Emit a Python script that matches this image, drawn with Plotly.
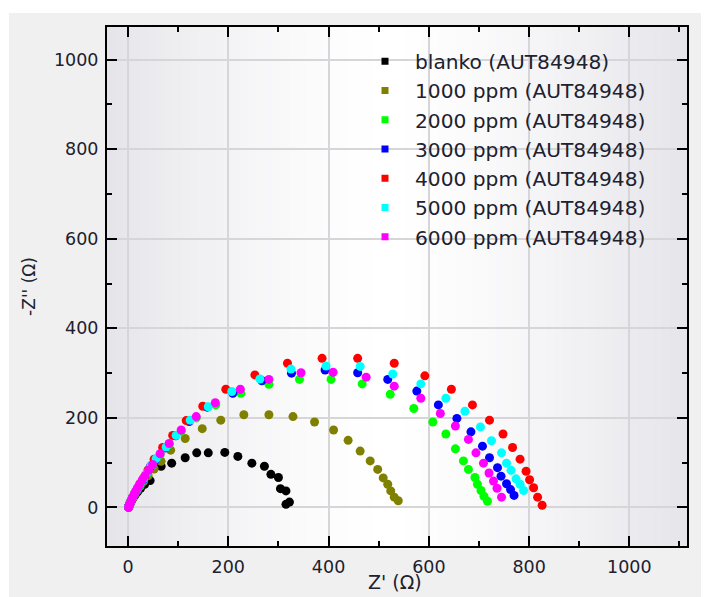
import plotly.graph_objects as go

# ---- data (Z' in ohm, -Z'' in ohm) ----
series_names = ["blanko (AUT84948)", "1000 ppm (AUT84948)", "2000 ppm (AUT84948)",
                "3000 ppm (AUT84948)", "4000 ppm (AUT84948)", "5000 ppm (AUT84948)",
                "6000 ppm (AUT84948)"]
series_colors = ["#000000", "#808000", "#00ff00", "#0000ff", "#ff0000", "#00ffff", "#ff00ff"]

blanko_x = [1, 2, 4, 7, 10, 14, 19, 25, 33, 44, 66, 87, 114, 137, 160, 193, 219, 247, 272, 285, 300, 304, 315, 322, 315]
blanko_y = [1, 4, 9, 15, 21, 28, 35, 43, 52, 60, 92, 99, 111, 122, 122, 123, 114, 99, 92, 74, 67, 42, 37, 12, 7]

p1000_x = [1, 2, 4, 6, 9, 13, 18, 24, 31, 40, 52, 66, 85, 114, 148, 185, 231, 281, 329, 372, 410, 439, 463, 483, 498, 509, 518, 524, 531, 539]
p1000_y = [1, 4, 9, 14, 20, 28, 37, 47, 58, 71, 86, 103, 128, 154, 176, 195, 207, 207, 203, 191, 173, 150, 126, 104, 85, 66, 52, 37, 23, 15]

p2000_x = [1, 2, 4, 6, 9, 13, 18, 24, 31, 39, 49, 64, 82, 106, 136, 175, 225, 281, 342, 405, 467, 523, 570, 608, 634, 653, 669, 679, 692, 697, 704, 710, 717]
p2000_y = [1, 4, 9, 15, 22, 30, 39, 50, 62, 77, 95, 118, 141, 170, 200, 229, 255, 275, 286, 286, 276, 253, 221, 191, 164, 131, 104, 85, 67, 52, 38, 25, 14]

p3000_x = [1, 2, 4, 6, 9, 13, 18, 24, 31, 38, 45, 55, 75, 95, 122, 158, 209, 267, 326, 393, 458, 518, 576, 619, 656, 684, 707, 721, 737, 744, 755, 763, 770]
p3000_y = [1, 4, 9, 15, 22, 30, 40, 51, 63, 78, 92, 107, 133, 160, 192, 224, 255, 283, 300, 307, 301, 286, 260, 229, 199, 169, 137, 111, 89, 70, 53, 40, 27]

p4000_x = [1, 2, 4, 6, 9, 13, 18, 24, 31, 40, 52, 69, 89, 116, 149, 195, 253, 318, 387, 458, 531, 592, 645, 687, 721, 748, 767, 782, 794, 801, 809, 817, 826]
p4000_y = [1, 4, 9, 15, 22, 31, 41, 53, 66, 84, 108, 134, 161, 194, 226, 264, 296, 322, 333, 333, 322, 294, 264, 229, 195, 164, 134, 108, 81, 62, 44, 23, 5]

p5000_x = [1, 2, 4, 6, 9, 13, 18, 24, 31, 38, 46, 56, 76, 96, 124, 160, 207, 263, 325, 395, 463, 528, 584, 634, 672, 703, 725, 745, 755, 764, 774, 782, 789]
p5000_y = [1, 4, 9, 15, 22, 31, 41, 52, 64, 78, 94, 109, 135, 161, 195, 225, 259, 287, 309, 316, 315, 298, 276, 244, 215, 180, 149, 122, 99, 83, 64, 52, 38]

p6000_x = [1, 2, 3, 5, 7, 9, 12, 15, 19, 23, 28, 34, 41, 49, 64, 82, 106, 136, 174, 224, 281, 345, 409, 475, 531, 584, 623, 653, 679, 694, 709, 720, 729, 736, 745]
p6000_y = [0, 3, 7, 12, 17, 23, 29, 36, 44, 52, 61, 71, 83, 96, 120, 143, 173, 203, 234, 264, 286, 301, 302, 291, 271, 244, 210, 182, 152, 122, 99, 77, 59, 43, 23]

xs = [blanko_x, p1000_x, p2000_x, p3000_x, p4000_x, p5000_x, p6000_x]
ys = [blanko_y, p1000_y, p2000_y, p3000_y, p4000_y, p5000_y, p6000_y]

tick_vals = [0, 200, 400, 600, 800, 1000]
x_title = "Z' (Ω)"
y_title = "-Z'' (Ω)"

FONT = "DejaVu Sans"
TXT = "#20202e"

fig = go.Figure()
for name, col, x, y in zip(series_names, series_colors, xs, ys):
    fig.add_trace(go.Scatter(x=x, y=y, mode="markers", name=name,
                             showlegend=False,
                             marker=dict(symbol="circle", size=9, color=col, line=dict(width=0))))
for name, col in zip(series_names, series_colors):
    fig.add_trace(go.Scatter(x=[None], y=[None], mode="markers", name=name,
                             marker=dict(symbol="square", size=7, color=col, line=dict(width=0))))

# page body adds an 8px offset; layout below is in figure pixels
OFF = 8
W, H = 709, 597
L, R, T, B = 107 - OFF, 687 - OFF, 27 - OFF, 546 - OFF
pw, ph = R - L, B - T
shapes = [dict(type="rect", xref="paper", yref="paper", layer="below",
               x0=(9 - OFF - L) / pw, x1=(W - L) / pw, y0=(B - H) / ph, y1=(B - (13 - OFF)) / ph,
               fillcolor="#f0f0f0", line=dict(width=0))]
n = 70
cx = 385.0 - OFF
for i in range(n):
    px0 = L + pw * i / n
    px1 = L + pw * (i + 1) / n
    pm = 0.5 * (px0 + px1)
    if pm < cx:
        t = (cx - pm) / (cx - L)
    else:
        t = (pm - cx) / (R - cx)
    t = min(1.0, t) ** 1.4
    r = round(255 - (255 - 229) * t)
    b = round(255 - (255 - 234) * t)
    col = "rgb(%d,%d,%d)" % (r, r, b)
    shapes.append(dict(type="rect", xref="paper", yref="paper", layer="below",
                       x0=i / n, x1=(i + 1) / n + 0.002, y0=0, y1=1,
                       fillcolor=col, line=dict(width=0)))

axis_common = dict(
    showline=True, linecolor="black", linewidth=2, mirror="ticks",
    ticks="inside", ticklen=10, tickwidth=2, tickcolor="black",
    showgrid=True, gridcolor="#d6d6d8", gridwidth=2, zeroline=False,
    automargin=False,
    tickvals=tick_vals, ticktext=[str(v) for v in tick_vals],
    tickfont=dict(family=FONT, size=17.5, color=TXT),
    minor=dict(dtick=100, tick0=0, ticks="inside", ticklen=5, tickwidth=2,
               tickcolor="black", showgrid=False),
)

fig.update_layout(
    width=W, height=H,
    margin=dict(l=L, r=W - R, t=T, b=H - B, autoexpand=False),
    paper_bgcolor="white", plot_bgcolor="rgba(0,0,0,0)",
    shapes=shapes,
    xaxis=dict(range=[-42, 1115], ticklabelstandoff=4, **axis_common),
    yaxis=dict(range=[-86, 1073], title=dict(text=y_title, font=dict(family=FONT, size=17, color=TXT), standoff=14),
               ticklabelstandoff=3, **axis_common),
    annotations=[dict(text=x_title, xref="paper", yref="paper", x=(395 - OFF - L) / pw,
                      y=(B - (582 - OFF)) / ph, xanchor="center", yanchor="middle", showarrow=False,
                      font=dict(family=FONT, size=19, color=TXT))],
    legend=dict(x=(355 - 107) / pw, y=(B - 33.5) / ph, xanchor="left", yanchor="top",
                bgcolor="rgba(0,0,0,0)", borderwidth=0, itemwidth=50, tracegroupgap=0,
                font=dict(family=FONT, size=20.2, color=TXT)),
    showlegend=True,
)

fig.write_html("out.html")
